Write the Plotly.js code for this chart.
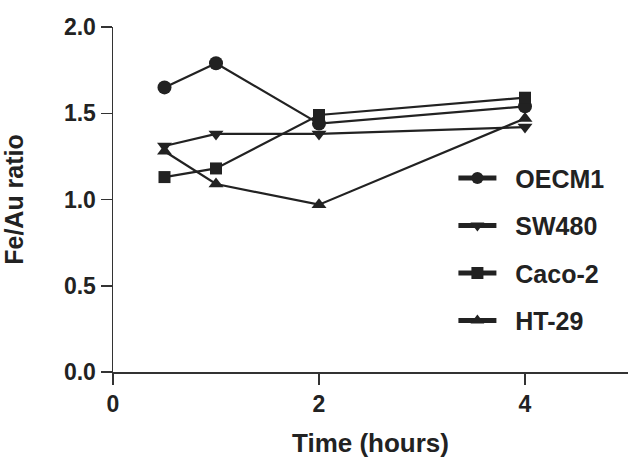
<!DOCTYPE html>
<html><head><meta charset="utf-8">
<script src="https://cdn.plot.ly/plotly-3.0.1.min.js"></script>
<style>html,body{margin:0;padding:0;background:#fff}#chart{width:630px;height:461px}</style>
</head><body><div id="chart"></div>
<script>
const timeHours = [0.5, 1, 2, 4];
const seriesNames = ["OECM1", "SW480", "Caco-2", "HT-29"];
const oecm1 = [1.65, 1.79, 1.44, 1.54];
const sw480 = [1.31, 1.38, 1.38, 1.42];
const caco2 = [1.13, 1.18, 1.49, 1.59];
const ht29 = [1.28, 1.09, 0.97, 1.47];
const xTicks = [0, 2, 4];
const yTicks = [0, 0.5, 1.0, 1.5, 2.0];

const symbols = ["circle", "triangle-down", "square", "triangle-up"];
const sizes = [14, 13, 12, 13];
const allY = [oecm1, sw480, caco2, ht29];
const ink = "#222";
const fam = "Liberation Sans, Arial, sans-serif";
const traces = allY.map((y, i) => ({
  x: timeHours, y: y, name: "\u00a0\u00a0" + seriesNames[i], type: "scatter", mode: "lines+markers",
  legendgroup: "g" + i,
  line: {color: ink, width: 2.2},
  marker: {symbol: symbols[i], size: sizes[i], color: ink},
  cliponaxis: false
}));
const layout = {
  width: 630, height: 461,
  margin: {l: 113, r: 2, t: 27, b: 89},
  paper_bgcolor: "#fff", plot_bgcolor: "#fff",
  font: {family: fam, color: ink},
  showlegend: true,
  legend: {x: 0.661, y: 0.628, xanchor: "left", yanchor: "top", tracegroupgap: 12,
    itemwidth: 38,
    font: {size: 25, family: fam, weight: "bold", color: ink},
    itemsizing: "constant", bgcolor: "rgba(0,0,0,0)"},
  xaxis: {range: [0, 5], tickvals: xTicks, ticktext: xTicks.map(String),
    showgrid: false, zeroline: false, showline: true, linecolor: "#333", linewidth: 1.5,
    ticks: "outside", ticklen: 11, tickwidth: 1.5, tickcolor: "#333",
    tickfont: {size: 23, weight: "bold", color: ink},
    title: {text: "Time (hours)", font: {size: 26, weight: "bold", color: ink}, standoff: 17}},
  yaxis: {range: [0, 2], tickvals: yTicks, ticktext: ["0.0", "0.5", "1.0", "1.5", "2.0"],
    showgrid: false, zeroline: false, showline: true, linecolor: "#333", linewidth: 1.5,
    ticks: "outside", ticklen: 11, tickwidth: 1.5, tickcolor: "#333",
    tickfont: {size: 23, weight: "bold", color: ink},
    title: {text: "Fe/Au ratio", font: {size: 25, weight: "bold", color: ink}, standoff: 34}}
};
Plotly.newPlot("chart", traces, layout, {displayModeBar: false, staticPlot: true});
</script></body></html>
